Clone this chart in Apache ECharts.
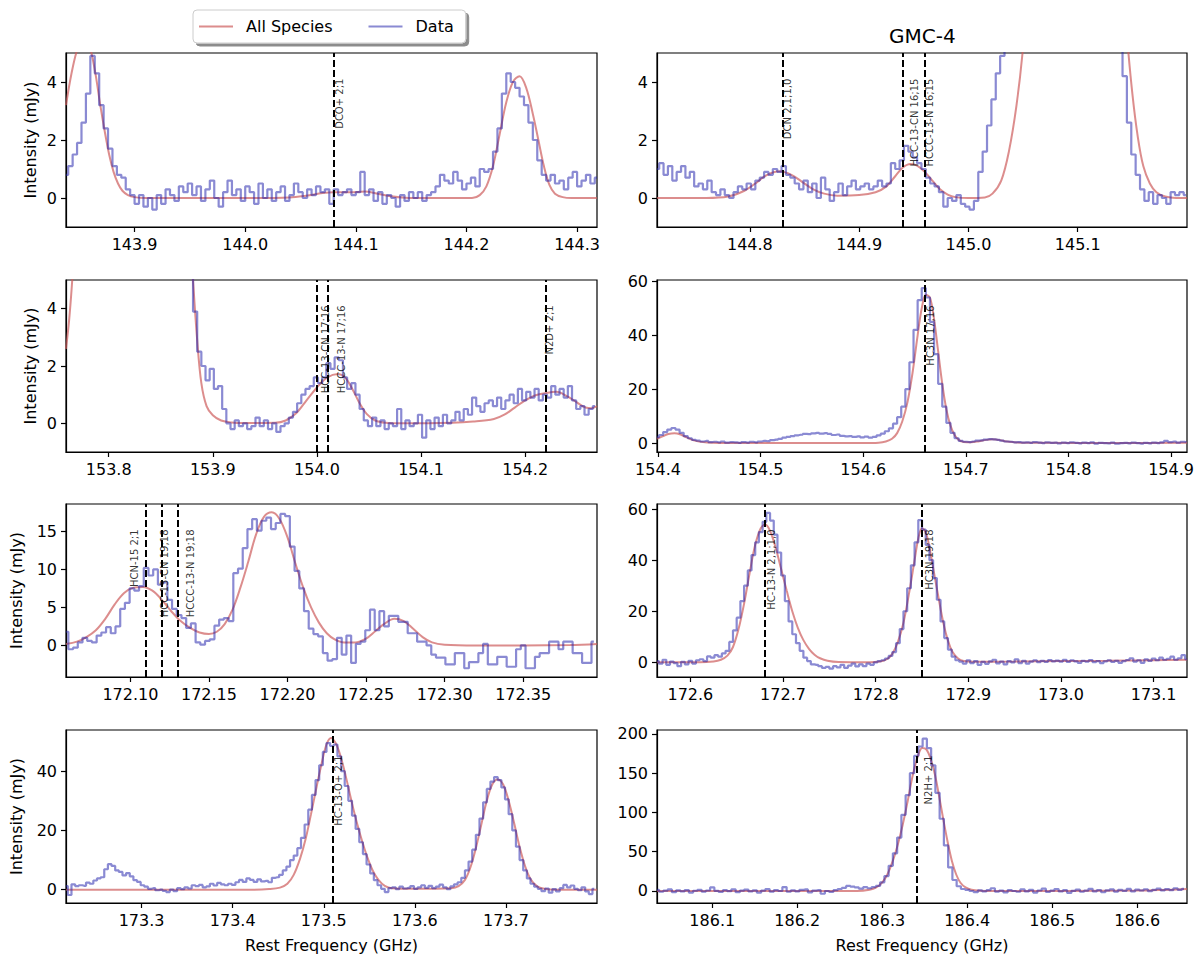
<!DOCTYPE html>
<html><head><meta charset="utf-8">
<script src="https://cdn.jsdelivr.net/npm/echarts@6/dist/echarts.min.js"></script>
<style>html,body{margin:0;padding:0;background:#fff}#c{width:1200px;height:962px}</style>
</head><body><div id="c"></div>
<script>
// ---------------- Panel 1 ----------------
const p1XRange = [143.838, 144.318];
const p1YRange = [-1, 5];
const p1XTicks = [143.9, 144.0, 144.1, 144.2, 144.3];
const p1YTicks = [0, 2, 4];
const p1ChanStart = 143.838, p1ChanWidth = 0.004;
const p1Data = [0.8,1.1,1.5,1.9,2.6,3.6,4.9,4.3,3.2,2.4,
 1.7,1.1,0.8,0.7,0.3,0.1,-0.2,0.1,-0.3,0.0,
 -0.4,0.1,-0.2,0.3,0.1,-0.1,0.4,0.2,0.5,0.1,
 0.4,-0.1,0.3,0.6,0.0,-0.3,0.2,0.6,0.1,0.3,
 -0.1,0.4,0.2,-0.2,0.5,0.0,0.3,-0.1,0.2,0.4,
 -0.1,0.1,0.5,0.2,0.0,0.3,0.1,0.4,0.2,0.3,
 -0.2,0.3,0.1,0.2,0.3,0.1,0.2,0.9,0.1,0.3,
 -0.1,0.2,-0.2,0.1,0.0,-0.3,0.1,-0.1,0.2,0.0,
 0.2,-0.1,0.1,0.2,0.4,0.8,0.6,0.5,0.9,0.6,
 0.3,0.5,0.7,0.4,1.0,0.9,1.0,1.6,2.4,3.6,
 4.3,4.0,3.8,3.5,3.2,2.6,2.0,1.3,0.8,0.6,
 0.8,0.5,0.6,0.3,0.7,0.9,0.4,0.6,0.8,0.5,
 0.7];
const p1ModelFreq = [143.838,143.843,143.848,143.853,143.857,143.861,143.865,143.869,143.873,143.877,143.881,143.885,143.889,143.894,143.900,143.910,
 144.000,144.040,144.055,144.070,144.080,144.095,144.108,144.120,144.130,144.145,144.160,
 144.205,144.212,144.218,144.224,144.230,144.236,144.242,144.248,144.254,144.260,144.265,144.270,144.275,144.280,144.287,144.295,144.318];
const p1ModelFlux = [3.2,4.3,5.1,5.5,5.5,5.0,4.2,3.2,2.3,1.5,0.9,0.5,0.25,0.1,0.03,0,
 0,0.02,0.08,0.17,0.2,0.2,0.22,0.15,0.07,0.01,0,
 0,0.1,0.4,1.1,2.2,3.3,4.0,4.2,3.8,2.9,2.0,1.1,0.45,0.15,0.03,0,0];
const p1LineFreq = [144.0773];
const p1LineNames = ['DCO+ 2;1'];

// ---------------- Panel 2 ----------------
const p2XRange = [144.715, 145.200];
const p2YRange = [-1, 5];
const p2XTicks = [144.8, 144.9, 145.0, 145.1];
const p2YTicks = [0, 2, 4];
const p2ChanStart = 144.715, p2ChanWidth = 0.004;
const p2Data = [1.0,1.2,0.8,1.1,0.6,0.9,1.1,0.7,0.9,0.4,
 0.5,0.3,0.6,0.2,0.1,0.3,0.1,0.0,0.2,0.4,
 0.3,0.5,0.3,0.6,0.7,0.9,0.8,1.0,0.9,1.1,
 0.8,0.7,0.5,0.3,0.6,0.2,0.5,0.0,0.7,0.3,
 -0.1,0.2,0.5,0.1,0.4,0.6,0.3,0.4,0.5,0.3,
 0.4,0.6,0.4,0.5,1.2,1.0,1.3,1.8,1.6,1.4,
 1.2,1.0,0.7,0.5,0.4,0.2,-0.3,0.0,-0.1,0.1,
 -0.2,-0.3,-0.4,-0.1,0.9,1.6,2.5,3.4,4.3,4.9,
 8,15,25,35,45,55,60,62,60,55,
 50,45,40,35,30,25,20,16,12,9,
 8,7.5,7,6.5,6,7,5.5,4.2,2.6,1.5,
 0.8,0.3,-0.1,0.2,-0.2,0.1,0.0,-0.2,0.2,0.1,
 0.2,0.1];
const p2ModelFreq = [144.715,144.760,144.780,144.795,144.805,144.815,144.827,144.838,144.848,144.858,
 144.868,144.880,144.900,144.915,144.925,144.933,144.940,144.947,144.953,144.960,
 144.967,144.974,144.981,144.988,145.000,145.015,145.022,145.030,145.037,145.044,
 145.050,145.058,145.070,145.085,145.100,145.115,145.130,145.140,145.145,145.150,
 145.155,145.160,145.166,145.172,145.180,145.190,145.200];
const p2ModelFlux = [0,0,0.05,0.25,0.5,0.78,0.92,0.8,0.55,0.3,
 0.15,0.08,0.1,0.2,0.4,0.75,1.05,1.17,1.12,0.9,
 0.6,0.3,0.12,0.03,0,0.02,0.15,0.6,1.6,3.2,
 5.2,9,20,35,40,35,18,8,5.6,3.6,
 2.1,1.1,0.5,0.2,0.05,0,0];
const p2LineFreq = [144.827, 144.943, 144.957];
const p2LineNames = ['DCN 2,1;1,0', 'HCC-13-CN 16;15', 'HCCC-13-N 16;15'];

// ---------------- Panel 3 ----------------
const p3XRange = [153.759, 154.269];
const p3YRange = [-1, 5];
const p3XTicks = [153.8, 153.9, 154.0, 154.1, 154.2];
const p3YTicks = [0, 2, 4];
const p3ChanStart = 153.879, p3ChanWidth = 0.004;
const p3Data = [6.5,3.9,2.5,2.0,1.5,1.9,1.2,1.3,0.5,0.0,
 -0.2,0.1,-0.1,0.0,-0.2,-0.1,0.2,-0.1,0.1,-0.2,
 0.0,-0.3,-0.1,0.0,0.2,0.4,0.7,1.0,1.2,1.3,
 1.6,1.4,1.6,2.1,1.9,2.3,2.2,1.6,1.2,1.4,
 1.0,0.5,0.1,-0.1,0.2,-0.1,0.1,-0.2,0.0,-0.1,
 0.5,-0.2,0.1,-0.1,0.0,0.3,-0.5,0.1,-0.2,0.2,
 -0.1,0.3,0.0,0.1,0.4,0.1,0.5,0.3,0.9,0.6,
 0.4,0.7,0.8,0.6,0.9,0.5,0.8,1.0,0.7,1.2,
 0.8,1.1,0.9,1.2,0.8,1.0,0.9,1.3,1.0,1.2,
 0.9,1.3,0.8,0.5,0.6,0.3,0.5,0.6];
const p3ModelFreq = [153.759,153.762,153.765,153.772,153.785,153.800,153.820,153.840,153.855,153.868,
 153.876,153.881,153.885,153.889,153.894,153.900,153.908,153.918,153.930,153.960,
 153.970,153.980,153.990,154.000,154.010,154.020,154.027,154.034,154.041,154.048,
 154.056,154.066,154.080,154.130,154.150,154.170,154.180,154.190,154.200,154.210,
 154.220,154.230,154.240,154.250,154.258,154.264,154.269];
const p3ModelFlux = [2.6,3.6,5.0,9,18,26,30,26,18,12,
 8,5.0,2.9,1.4,0.6,0.28,0.1,0.03,0.01,0.02,
 0.1,0.35,0.8,1.25,1.6,1.72,1.6,1.2,0.7,0.32,
 0.1,0.02,0,0.02,0.06,0.15,0.3,0.55,0.8,0.98,
 1.06,1.1,0.95,0.72,0.55,0.53,0.6];
const p3LineFreq = [154.000, 154.015, 154.215];
const p3LineNames = ['HCC-13-CN 17;16', 'HCCC-13-N 17;16', 'N2D+ 2;1'];

// ---------------- Panel 4 ----------------
const p4XRange = [154.399, 154.9155];
const p4YRange = [-3.3, 60.5];
const p4XTicks = [154.4, 154.5, 154.6, 154.7, 154.8, 154.9];
const p4YTicks = [0, 20, 40, 60];
const p4ChanStart = 154.399, p4ChanWidth = 0.004;
const p4Data = [2.2,3.0,4.1,5.0,5.6,5.0,3.8,2.6,1.8,1.2,
 0.9,0.6,0.8,0.4,0.5,0.3,0.6,0.2,0.4,0.3,
 0.1,0.4,0.2,0.5,0.3,0.6,0.8,0.7,1.1,1.3,
 1.6,2.0,2.3,2.6,2.9,3.1,3.4,3.3,3.6,3.8,
 3.5,3.7,3.4,3.0,3.2,2.7,2.5,2.6,2.3,2.5,
 2.1,2.4,2.0,2.3,2.9,3.5,4.4,5.5,7.2,9.6,
 13.5,20,30,42,53,57.5,54,45,33,22,
 13.5,7.5,3.8,1.8,0.8,0.5,0.4,0.6,0.9,1.0,
 1.3,1.5,1.4,1.2,0.9,0.6,0.5,0.3,0.4,0.2,
 0.3,0.1,0.4,0.2,0.0,0.3,0.1,0.2,-0.1,0.2,
 0.0,0.3,0.1,-0.1,0.2,0.0,0.3,-0.2,0.1,0.0,
 -0.1,0.2,-0.2,0.0,0.1,-0.1,0.2,0.0,-0.2,0.1,
 -0.1,0.2,0.0,0.3,0.8,0.4,0.6,0.2,0.5,0.3];
const p4ModelFreq = [154.399,154.405,154.410,154.416,154.422,154.428,154.434,154.440,154.448,154.460,
 154.480,154.600,154.615,154.622,154.628,154.633,154.638,154.643,154.648,154.653,
 154.657,154.661,154.665,154.669,154.673,154.677,154.681,154.685,154.689,154.693,
 154.698,154.705,154.713,154.720,154.726,154.732,154.740,154.750,154.770,154.850,
 154.9155];
const p4ModelFlux = [1.6,2.6,3.4,3.7,3.2,2.1,1.1,0.55,0.2,0.05,
 0,0,0.15,0.6,1.6,3.7,8,15,26,40,
 50,55,54,46,34,22,12.5,6.5,3.0,1.2,
 0.45,0.3,0.7,1.2,1.4,1.2,0.6,0.25,0.1,0.05,
 0.1];
const p4LineFreq = [154.657];
const p4LineNames = ['HC3N 17;16'];

// ---------------- Panel 5 ----------------
const p5XRange = [172.059, 172.397];
const p5YRange = [-4.15, 18.6];
const p5XTicks = [172.10, 172.15, 172.20, 172.25, 172.30, 172.35];
const p5YTicks = [0, 5, 10, 15];
const p5ChanStart = 172.059, p5ChanWidth = 0.003;
const p5Data = [1.8,-0.5,-0.3,0.4,1.0,0.6,0.4,1.3,1.7,2.4,
 1.6,2.5,4.8,5.6,7.5,7.2,7.8,10.2,9.2,10.0,
 8.0,8.3,6.0,4.8,4.0,3.6,2.3,2.9,0.4,0.1,
 0.6,0.8,2.6,3.4,3.6,3.2,9.5,10.1,12.8,15.3,
 16.6,15.1,16.4,16.8,15.3,16.1,17.3,17.0,13.0,9.8,
 7.5,4.5,2.2,1.5,1.2,-1.0,-2.0,-1.8,1.0,-1.2,
 1.3,-2.3,0.2,0.5,2.0,4.7,2.0,4.5,2.5,3.9,
 3.9,3.1,3.1,1.6,1.6,0.5,0.5,0.0,-1.2,-1.6,
 -1.6,-2.5,-2.5,-1.0,-1.0,-3.0,-2.2,-2.2,-1.0,0.2,
 -2.5,-2.5,-1.5,-1.5,-2.8,-2.8,-0.5,0.0,-3.0,-3.0,
 -1.5,-1.0,-1.0,0.5,0.5,-0.5,0.5,0.5,-1.0,-1.0,
 -2.3,-2.3,0.5];
const p5ModelFreq = [172.059,172.066,172.072,172.078,172.084,172.090,172.096,172.102,172.108,172.114,
 172.120,172.126,172.132,172.138,172.144,172.150,172.155,172.160,172.165,172.170,
 172.175,172.180,172.185,172.190,172.195,172.200,172.205,172.210,172.215,172.220,
 172.225,172.230,172.236,172.243,172.250,172.256,172.262,172.268,172.274,172.280,
 172.286,172.292,172.300,172.320,172.380,172.397];
const p5ModelFlux = [0.2,0.5,1.1,2.0,3.5,5.4,6.9,7.6,7.7,7.2,
 6.0,4.5,3.2,2.3,1.7,1.5,1.8,2.8,4.7,7.6,
 11,14.6,16.9,17.5,16.6,14.2,10.8,7.6,5.0,3.0,
 1.6,0.8,0.4,0.4,0.9,1.9,2.9,3.5,3.2,2.2,
 1.1,0.4,0.1,0,0.05,0.2];
const p5LineFreq = [172.108, 172.116, 172.133];
const p5LineNames = ['HCN-15 2;1', 'HCC-13-CN 19;18', 'HCCC-13-N 19;18'];

// ---------------- Panel 6 ----------------
const p6XRange = [172.564, 173.136];
const p6YRange = [-5.75, 62];
const p6XTicks = [172.6, 172.7, 172.8, 172.9, 173.0, 173.1];
const p6YTicks = [0, 20, 40, 60];
const p6ChanStart = 172.564, p6ChanWidth = 0.004;
const p6Data = [0.5,-0.5,1.0,-1.0,0.3,-0.3,-1.5,0.2,-0.8,0.6,
 -0.5,0.8,1.2,0.5,2.3,1.8,2.8,2.2,3.5,4.5,
 8.0,12.5,17.5,24,30,36,42,47,51,55,
 58.5,55.5,50,43,34,24,16,11,7.5,4.5,
 1.8,0.5,-0.8,-1.0,-1.5,-2.2,-1.8,-2.5,-1.5,-2.0,
 -1.0,-2.2,-1.3,-0.5,-1.6,-0.8,-1.5,-0.5,-1.0,0.0,
 0.5,0.8,1.5,2.5,4.0,7.5,13,20,29,38,
 47,55.7,52,46,40,33,24.5,16,9.5,5,
 2.2,0.8,0.3,-0.5,0.8,-0.3,0.5,-1.0,0.2,-0.6,
 0.4,1.0,-0.4,0.3,-0.8,0.5,0.0,1.2,-0.3,0.6,
 -0.5,0.3,0.8,0.1,0.6,0.2,0.9,0.4,0.7,0.3,
 1.0,0.2,0.8,0.4,-0.2,0.6,0.3,0.9,0.1,0.5,
 -0.3,0.4,0.8,0.2,0.6,-0.2,0.5,0.9,1.6,0.3,
 0.8,-0.2,1.2,0.6,1.5,0.8,1.8,1.0,1.4,2.2,
 1.0,1.6,2.8,1.2];
const p6ModelFreq = [172.564,172.610,172.625,172.633,172.640,172.646,172.652,172.658,172.664,172.670,
 172.676,172.681,172.686,172.692,172.698,172.704,172.710,172.716,172.722,172.728,
 172.734,172.740,172.748,172.760,172.790,172.805,172.812,172.818,172.824,172.830,
 172.836,172.842,172.846,172.850,172.854,172.858,172.863,172.868,172.873,172.878,
 172.883,172.889,172.895,172.905,172.950,173.000,173.050,173.100,173.136];
const p6ModelFlux = [0,0,0.3,1.0,2.6,6,13,23,35,46,
 52.5,54,51.5,45,36.5,28,20,13.5,8.7,5.3,
 3.0,1.6,0.6,0.1,0,0.3,1.2,3.3,8,15.5,
 27,40,48.5,52.5,51,45,35,25,15.5,8.5,
 4,1.5,0.5,0.2,0.3,0.5,0.6,0.8,1.0];
const p6LineFreq = [172.678, 172.849];
const p6LineNames = ['HC-13-N 2,1;1,0', 'HC3N 19;18'];

// ---------------- Panel 7 ----------------
const p7XRange = [173.217, 173.800];
const p7YRange = [-4.5, 53.9];
const p7XTicks = [173.3, 173.4, 173.5, 173.6, 173.7];
const p7YTicks = [0, 20, 40];
const p7ChanStart = 173.217, p7ChanWidth = 0.004;
const p7Data = [1.2,-1.8,1.8,1.2,1.5,1.3,2.4,2.0,3.1,3.8,
 4.2,6.9,8.6,8.0,6.5,6.0,4.8,5.6,4.5,3.2,
 2.6,1.5,1.0,0.3,0.5,-0.2,0.0,-0.4,-0.8,0.0,
 -0.5,0.5,0.2,0.8,0.4,1.5,1.2,1.6,0.8,1.1,
 2.0,1.4,2.3,1.8,1.5,2.0,1.6,2.5,3.3,2.6,
 3.8,3.3,2.6,3.5,2.8,3.0,2.5,4.0,4.2,5.0,
 6.5,7.8,10.0,11.5,14,17.5,22,27,32,37,
 42,46.5,49.5,48.5,49,45,40,35,30,25,
 20.5,16,12,8.5,5.5,3.2,1.5,0.3,-0.8,0.5,
 0.8,0.2,1.0,0.4,0.6,1.2,0.3,0.8,1.5,0.6,
 1.3,0.5,1.0,1.7,0.8,0.2,1.1,1.8,2.5,4.0,
 6.5,9.5,13.5,18.5,24,29.5,34,36.5,38,37,
 34.5,30.5,25.5,20,14.5,10,6.5,3.8,2.0,1.0,
 0.3,-0.5,0.4,-1.0,0.2,-0.6,0.5,1.6,0.8,1.4,
 0.3,-0.2,0.8,-0.6,-1.5,0.3];
const p7ModelFreq = [173.217,173.420,173.440,173.452,173.460,173.467,173.474,173.480,173.486,173.492,
 173.498,173.503,173.508,173.513,173.518,173.524,173.530,173.536,173.542,173.548,
 173.554,173.560,173.567,173.575,173.600,173.640,173.648,173.655,173.661,173.667,
 173.673,173.679,173.685,173.691,173.697,173.703,173.709,173.715,173.721,173.727,
 173.734,173.742,173.755,173.800];
const p7ModelFlux = [0,0,0.2,0.7,2.0,5,10.5,17,25.5,34.5,
 43,49,51.2,49.5,45.5,38.5,30.5,23,16.5,10.8,
 6.3,3.3,1.3,0.5,0.3,0.5,1.2,3.3,7.5,14,
 22,30,35.5,37.2,35.5,30,22.5,14.5,8,3.6,
 1.2,0.3,0,0];
const p7LineFreq = [173.507];
const p7LineNames = ['HC-13-O+ 2;1'];

// ---------------- Panel 8 ----------------
const p8XRange = [186.035, 186.6585];
const p8YRange = [-15.3, 205];
const p8XTicks = [186.1, 186.2, 186.3, 186.4, 186.5, 186.6];
const p8YTicks = [0, 50, 100, 150, 200];
const p8ChanStart = 186.035, p8ChanWidth = 0.005;
const p8Data = [1.5,-1.0,0.5,2.0,-1.5,0.8,-0.5,1.2,-2.0,0.3,
 1.5,-0.8,0.6,4.5,0.2,-1.2,1.0,-0.3,2.2,-1.5,
 0.4,1.8,-0.6,0.9,-2.2,0.5,2.5,-0.8,1.2,0.0,
 5.0,-1.0,0.8,-0.5,1.5,2.0,-1.8,0.4,1.2,-3.5,
 0.0,-1.2,1.0,2.5,4.0,6.5,5.5,4.5,3.0,4.8,
 3.5,5.0,6.5,11,19,32,48,68,97,122,
 150,172,184,194,182,160,125,92,58,30,
 14,6,2.5,1.5,0.0,-1.5,0.8,-0.5,1.0,3.5,
 -0.8,0.5,-1.8,1.2,0.0,-1.0,2.2,-0.5,1.5,-2.0,
 0.6,3.0,-1.2,0.4,2.5,-0.6,1.0,-2.5,0.2,1.8,
 -1.0,0.5,2.8,-0.4,1.2,-1.6,0.9,2.0,-0.8,1.5,
 0.2,2.6,-0.5,1.8,0.6,2.2,-0.3,1.5,3.0,0.8,
 2.4,1.2,3.5,1.5,2.8];
const p8ModelFreq = [186.035,186.270,186.285,186.293,186.300,186.306,186.312,186.318,186.324,186.330,
 186.336,186.342,186.347,186.352,186.357,186.362,186.367,186.372,186.377,186.382,
 186.387,186.392,186.398,186.405,186.415,186.430,186.600,186.6585];
const p8ModelFlux = [0,0,1.5,4.5,11,21,37,58,84,115,
 148,172,182,180,168,148,120,90,62,38,
 21,10.5,4.5,1.5,0.3,0,0.5,2.5];
const p8LineFreq = [186.3445];
const p8LineNames = ['N2H+ 2;1'];

// transitions whose label sits on the low-frequency side of the marker
const leftLabelledLines = ['HCN-15 2;1'];

const seriesNames = ['All Species', 'Data'];
const titleText = 'GMC-4';
const yName = 'Intensity (mJy)';
const xName = 'Rest Frequency (GHz)';

// ---------------- Build ----------------
const panels = [
  {xr:p1XRange, yr:p1YRange, xt:p1XTicks, yt:p1YTicks, dec:1, cs:p1ChanStart, cw:p1ChanWidth, d:p1Data, mf:p1ModelFreq, mv:p1ModelFlux, lf:p1LineFreq, ln:p1LineNames},
  {xr:p2XRange, yr:p2YRange, xt:p2XTicks, yt:p2YTicks, dec:1, cs:p2ChanStart, cw:p2ChanWidth, d:p2Data, mf:p2ModelFreq, mv:p2ModelFlux, lf:p2LineFreq, ln:p2LineNames},
  {xr:p3XRange, yr:p3YRange, xt:p3XTicks, yt:p3YTicks, dec:1, cs:p3ChanStart, cw:p3ChanWidth, d:p3Data, mf:p3ModelFreq, mv:p3ModelFlux, lf:p3LineFreq, ln:p3LineNames},
  {xr:p4XRange, yr:p4YRange, xt:p4XTicks, yt:p4YTicks, dec:1, cs:p4ChanStart, cw:p4ChanWidth, d:p4Data, mf:p4ModelFreq, mv:p4ModelFlux, lf:p4LineFreq, ln:p4LineNames},
  {xr:p5XRange, yr:p5YRange, xt:p5XTicks, yt:p5YTicks, dec:2, cs:p5ChanStart, cw:p5ChanWidth, d:p5Data, mf:p5ModelFreq, mv:p5ModelFlux, lf:p5LineFreq, ln:p5LineNames},
  {xr:p6XRange, yr:p6YRange, xt:p6XTicks, yt:p6YTicks, dec:1, cs:p6ChanStart, cw:p6ChanWidth, d:p6Data, mf:p6ModelFreq, mv:p6ModelFlux, lf:p6LineFreq, ln:p6LineNames},
  {xr:p7XRange, yr:p7YRange, xt:p7XTicks, yt:p7YTicks, dec:1, cs:p7ChanStart, cw:p7ChanWidth, d:p7Data, mf:p7ModelFreq, mv:p7ModelFlux, lf:p7LineFreq, ln:p7LineNames},
  {xr:p8XRange, yr:p8YRange, xt:p8XTicks, yt:p8YTicks, dec:1, cs:p8ChanStart, cw:p8ChanWidth, d:p8Data, mf:p8ModelFreq, mv:p8ModelFlux, lf:p8LineFreq, ln:p8LineNames}
];

const LEFT = [66, 657], WIDTH = [531, 530];
const TOPS = [53, 280, 504, 730], HEIGHTS = [174, 172, 173, 173];
const YNAMEGAP = [28, 28, 42, 42];
const MODEL = 'rgba(205,92,92,0.7)';
const DATA = 'rgba(30,30,170,0.52)';
const FONT = 'DejaVu Sans';

const grids = [], xAxes = [], yAxes = [], series = [];
panels.forEach((p, k) => {
  const col = k % 2, row = Math.floor(k / 2);
  grids.push({left: LEFT[col], top: TOPS[row], width: WIDTH[col], height: HEIGHTS[row],
    show: true, borderColor: '#000', borderWidth: 1.2, backgroundColor: 'transparent',
    containLabel: false, outerBoundsMode: 'none'});
  xAxes.push({gridIndex: k, type: 'value', min: p.xr[0], max: p.xr[1],
    axisLine: {show: true, onZero: false, lineStyle: {color: '#000', width: 1.2}},
    axisTick: {show: true, inside: false, length: 5, customValues: p.xt, lineStyle: {color: '#000', width: 1.2}},
    axisLabel: {show: true, customValues: p.xt, margin: 9, color: '#000', fontSize: 16, fontFamily: FONT,
      formatter: v => Number(v).toFixed(p.dec)},
    splitLine: {show: false},
    name: row === 3 ? xName : '', nameLocation: 'middle', nameGap: 34,
    nameTextStyle: {fontSize: 16, color: '#000', fontFamily: FONT}});
  yAxes.push({gridIndex: k, type: 'value', min: p.yr[0], max: p.yr[1],
    axisLine: {show: true, onZero: false, lineStyle: {color: '#000', width: 1.2}},
    axisTick: {show: true, inside: false, length: 5, customValues: p.yt, lineStyle: {color: '#000', width: 1.2}},
    axisLabel: {show: true, customValues: p.yt, margin: 9, color: '#000', fontSize: 16, fontFamily: FONT,
      formatter: v => String(v)},
    splitLine: {show: false},
    name: col === 0 ? yName : '', nameLocation: 'middle', nameGap: YNAMEGAP[row], nameRotate: 90,
    nameTextStyle: {fontSize: 16, color: '#000', fontFamily: FONT}});
  series.push({name: seriesNames[0], type: 'line', xAxisIndex: k, yAxisIndex: k,
    data: p.mf.map((f, i) => [f, p.mv[i]]), smooth: 0.35, symbol: 'none', showSymbol: false,
    lineStyle: {color: MODEL, width: 2}, itemStyle: {color: MODEL}, z: 2, silent: true, clip: true});
  series.push({name: seriesNames[1], type: 'line', xAxisIndex: k, yAxisIndex: k, step: 'middle',
    data: p.d.map((v, i) => [p.cs + i * p.cw, v]), symbol: 'none', showSymbol: false,
    lineStyle: {color: DATA, width: 2.2}, itemStyle: {color: DATA}, z: 3, silent: true, clip: true});
  const labelY = p.yr[0] + 0.85 * (p.yr[1] - p.yr[0]);
  series.push({name: 'lines' + k, type: 'scatter', xAxisIndex: k, yAxisIndex: k, silent: true,
    data: p.lf.map((f, i) => {
      const onLeft = leftLabelledLines.indexOf(p.ln[i]) >= 0;
      return {value: [f, labelY], name: p.ln[i],
        label: onLeft ? {position: [-3, 0], verticalAlign: 'bottom'} : {position: [4, 0], verticalAlign: 'top'}};
    }),
    symbol: 'circle', symbolSize: 1, itemStyle: {color: 'rgba(0,0,0,0)'},
    label: {show: true, formatter: '{b}', align: 'right',
      rotate: 90, fontSize: 10, color: '#000', fontFamily: FONT},
    markLine: {silent: true, symbol: ['none', 'none'], label: {show: false},
      lineStyle: {color: '#000', type: [7, 3], width: 2}, emphasis: {disabled: true},
      data: p.lf.map(f => ({xAxis: f}))},
    z: 5});
});

const chart = echarts.init(document.getElementById('c'), null, {renderer: 'svg', width: 1200, height: 962});
chart.setOption({
  animation: false,
  backgroundColor: '#fff',
  textStyle: {fontFamily: FONT},
  title: {text: titleText, left: 889, top: 26, padding: 0,
    textStyle: {fontSize: 20, fontWeight: 'normal', color: '#000', fontFamily: FONT}},
  legend: {data: seriesNames, left: 193, top: 10, orient: 'horizontal', icon: 'rect',
    padding: [7, 12, 7, 6], itemWidth: 34, itemHeight: 2, itemGap: 36,
    backgroundColor: '#fff', borderColor: '#cccccc', borderWidth: 1, borderRadius: 4,
    shadowColor: 'rgba(0,0,0,0.45)', shadowOffsetX: 3, shadowOffsetY: 3, shadowBlur: 0,
    selectedMode: false,
    textStyle: {fontSize: 16, color: '#000', fontFamily: FONT, padding: [0, 0, 0, 8], lineHeight: 19}},
  grid: grids, xAxis: xAxes, yAxis: yAxes, series: series
});
</script></body></html>
